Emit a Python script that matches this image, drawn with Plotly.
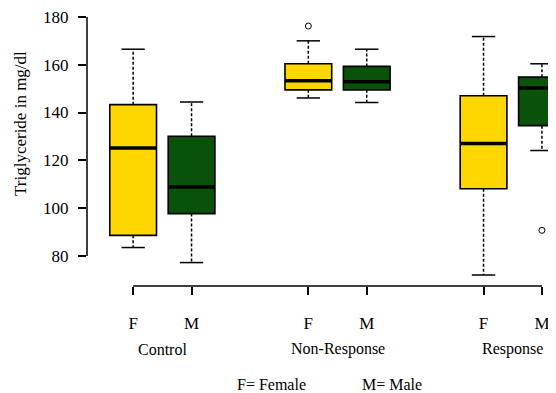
import plotly.graph_objects as go

# ---- data ----
groups = ["Control", "Non-Response", "Response"]
sexes = ["F", "M"]
# order: Control F, Control M, Non-Response F, Non-Response M, Response F, Response M
upper = [166.5, 144.4, 170.0, 166.5, 171.8, 160.4]
q3 = [143.3, 130.1, 160.4, 159.3, 147.0, 154.8]
median = [125.2, 108.8, 153.3, 152.9, 127.0, 150.3]
q1 = [88.6, 97.7, 149.5, 149.5, 108.1, 134.5]
lower = [83.5, 77.2, 146.1, 144.2, 72.0, 124.1]
outliers = [[], [], [176.2], [], [], [90.7]]
y_ticks = [80, 100, 120, 140, 160, 180]
legend_text = ["F= Female", "M= Male"]
y_title = "Triglyceride in mg/dl"

colors = {"F": "#FFD700", "M": "#0A520A"}
FONT = "Liberation Serif"

# page body has an 8px default margin; the figure is sized so it fills the window
OFF = 8
W, H = 556 - OFF, 393 - OFF
L, T = 87 - OFF, 16 - OFF
PW = W - L
UNIT = 58.4
X0 = 0.21

pos, sex_of = [], []
for gi, g in enumerate(groups):
    for si, s in enumerate(sexes):
        pos.append(gi * 3 + si + 1)
        sex_of.append(s)

fig = go.Figure()

# whiskers (dashed) and caps (solid)
wx, wy, cx, cy = [], [], [], []
for i, p in enumerate(pos):
    wx += [p, p, None, p, p, None]
    wy += [q3[i], upper[i], None, q1[i], lower[i], None]
    cx += [p - 0.2, p + 0.2, None, p - 0.2, p + 0.2, None]
    cy += [upper[i], upper[i], None, lower[i], lower[i], None]
fig.add_trace(go.Scatter(x=wx, y=wy, mode="lines", line=dict(color="black", width=1.5, dash="3px,2px"),
                         hoverinfo="skip", showlegend=False))
fig.add_trace(go.Scatter(x=cx, y=cy, mode="lines", line=dict(color="black", width=1.5),
                         hoverinfo="skip", showlegend=False))

# boxes
for i, p in enumerate(pos):
    fig.add_trace(go.Box(x=[p], q1=[q1[i]], median=[median[i]], q3=[q3[i]],
                         lowerfence=[q1[i]], upperfence=[q3[i]], width=0.8,
                         fillcolor=colors[sex_of[i]], line=dict(color="black", width=1.6),
                         whiskerwidth=0, showlegend=False, boxpoints=False))

# thick medians
mx, my = [], []
for i, p in enumerate(pos):
    mx += [p - 0.4, p + 0.4, None]
    my += [median[i], median[i], None]
fig.add_trace(go.Scatter(x=mx, y=my, mode="lines", line=dict(color="black", width=3.5),
                         hoverinfo="skip", showlegend=False))

# outliers
ox, oy = [], []
for i, p in enumerate(pos):
    for v in outliers[i]:
        ox.append(p)
        oy.append(v)
fig.add_trace(go.Scatter(x=ox, y=oy, mode="markers",
                         marker=dict(symbol="circle-open", size=6, color="black", line=dict(width=1)),
                         showlegend=False, hoverinfo="skip"))

# axis lines spanning tick range only (R style)
fig.add_shape(type="line", xref="paper", yref="y", x0=0, x1=0, y0=min(y_ticks), y1=max(y_ticks),
              line=dict(color="black", width=1.5))
fig.add_shape(type="line", xref="x", yref="paper", x0=min(pos), x1=max(pos), y0=0, y1=0,
              line=dict(color="black", width=1.5))

tfont = dict(family=FONT, size=16, color="black")
annotations = []
for gi, g in enumerate(groups):
    gx = sum(pos[gi * 2:gi * 2 + 2]) / 2
    annotations.append(dict(x=gx, xref="x", y=0, yref="paper", yanchor="middle", yshift=-63,
                            text=g, showarrow=False, font=tfont))
# footnote, centred at page pixels 271 and 392
for txt, px in zip(legend_text, [271, 392]):
    annotations.append(dict(x=X0 + (px - 87) / UNIT, xref="x", y=0, yref="paper", yanchor="middle",
                            yshift=-98, text=txt, showarrow=False, font=tfont))
annotations.append(dict(x=(20 - 87) / PW, xref="paper", y=0.6, yref="paper", xanchor="center", yanchor="middle",
                        text=y_title, textangle=-90, showarrow=False, font=dict(family=FONT, size=17, color="black")))

fig.update_layout(
    width=W, height=H,
    margin=dict(l=L, r=0, t=T, b=H - T - 270, pad=0),
    paper_bgcolor="white", plot_bgcolor="white",
    font=dict(family=FONT, size=16, color="black"),
    xaxis=dict(range=[X0, X0 + PW / UNIT], tickvals=pos, ticktext=sex_of, ticks="outside", ticklen=8,
               tickwidth=1.5, tickcolor="black", showgrid=False, zeroline=False, showline=False,
               ticklabelstandoff=14, ticklabeloverflow="allow", tickfont=dict(family=FONT, size=17)),
    yaxis=dict(range=[67.4, 180.4], tickvals=y_ticks, ticks="outside", ticklen=8,
               tickwidth=1.5, tickcolor="black", showgrid=False, zeroline=False, showline=False,
               ticklabelstandoff=6, ticklabeloverflow="allow", tickfont=dict(family=FONT, size=17)),
    annotations=annotations,
)

fig.write_html("out.html")
